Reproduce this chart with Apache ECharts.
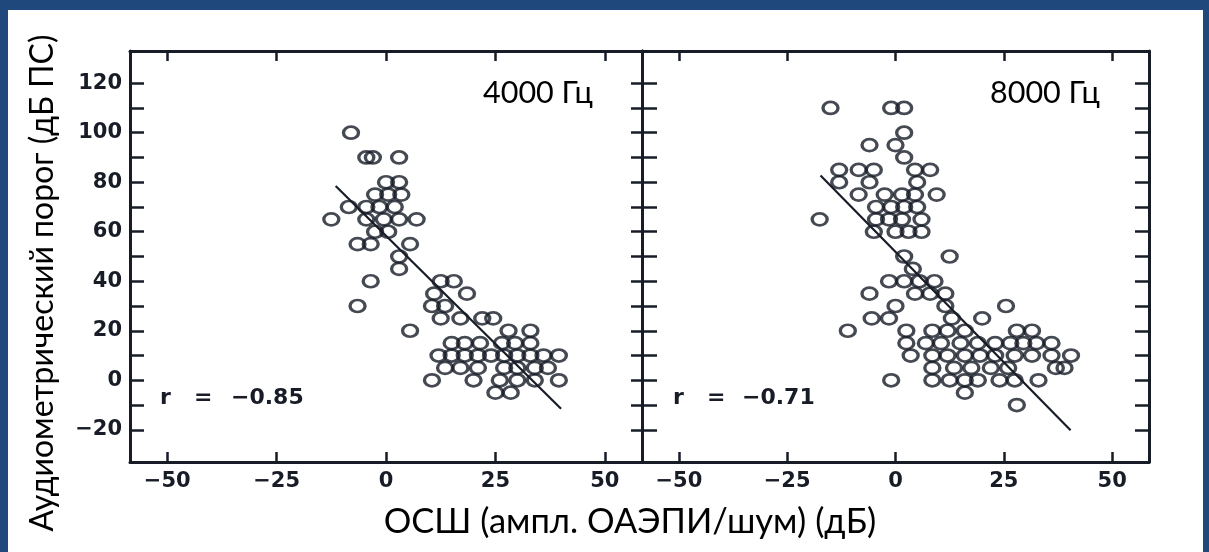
<!DOCTYPE html>
<html>
<head>
<meta charset="utf-8">
<script src="https://cdn.jsdelivr.net/npm/echarts@6/dist/echarts.min.js"></script>
<style>
  html, body { margin: 0; padding: 0; background: #1f497d; }
  #sheet { position: absolute; left: 8px; top: 10px; width: 1195px; height: 542px; background: #ffffff; }
  #chart { position: absolute; left: 0; top: 0; width: 1209px; height: 552px; }
</style>
</head>
<body>
<div id="sheet"></div>
<div id="chart"></div>
<script>
// OAE signal-to-noise ratio (dB) vs. audiometric threshold (dB HL), one pair per ear
const pts4000 = [
  [-8, 100],
  [-4.5, 90], [-3, 90], [3, 90],
  [0, 80], [3, 80],
  [-2.5, 75], [0.5, 75], [3.5, 75],
  [-8.5, 70], [-4.5, 70], [-1.5, 70], [2, 70],
  [-12.5, 65], [-4.5, 65], [-0.5, 65], [3, 65], [7, 65],
  [-2.5, 60], [0.5, 60],
  [-6.5, 55], [-3.5, 55], [5.5, 55],
  [3, 50], [3, 45],
  [-3.5, 40], [12.5, 40], [15.5, 40],
  [11, 35], [18.5, 35],
  [-6.5, 30], [10.5, 30], [13.5, 30],
  [12.5, 25], [17, 25], [22, 25], [24.5, 25],
  [5.5, 20], [28, 20], [33, 20],
  [15, 15], [18, 15], [21.5, 15], [26.5, 15], [29.5, 15], [33, 15],
  [12, 10], [15, 10], [18, 10], [21, 10], [24, 10], [27, 10], [30, 10], [33, 10], [36, 10], [39.5, 10],
  [13.5, 5], [17, 5], [21, 5], [27, 5], [30, 5], [34, 5], [37, 5],
  [10.5, 0], [20, 0], [26, 0], [30, 0], [34, 0], [39.5, 0],
  [25, -5], [28.5, -5]
];
const pts8000 = [
  [-15, 110], [-1, 110], [2, 110],
  [2, 100],
  [-6, 95], [0, 95],
  [2, 90],
  [-13, 85], [-8.5, 85], [-5, 85], [4.5, 85], [8, 85],
  [-13, 80], [-6, 80], [5, 80],
  [-8.5, 75], [-2.5, 75], [1.5, 75], [4.5, 75], [9.5, 75],
  [-4.5, 70], [-1, 70], [2, 70], [5, 70],
  [-17.5, 65], [-4.5, 65], [-1.5, 65], [1.5, 65], [6, 65],
  [-5, 60], [0, 60], [3, 60], [6, 60],
  [2, 50], [12.5, 50],
  [4, 45],
  [-1.5, 40], [2, 40], [5.5, 40], [9, 40],
  [-6, 35], [4.5, 35], [8, 35], [11.5, 35],
  [0, 30], [11.5, 30], [25.5, 30],
  [-5.5, 25], [-1.5, 25], [13, 25], [20, 25],
  [-11, 20], [2.5, 20], [8.5, 20], [12, 20], [16, 20], [28, 20], [31.5, 20],
  [2.5, 15], [7, 15], [10.5, 15], [15, 15], [19, 15], [23, 15], [26.5, 15], [29.5, 15], [32.5, 15], [36, 15],
  [3.5, 10], [8.5, 10], [12, 10], [16, 10], [19.5, 10], [23, 10], [27.5, 10], [31.5, 10], [36, 10], [40.5, 10],
  [8.5, 5], [13.5, 5], [17.5, 5], [22, 5], [26, 5], [37, 5], [39, 5],
  [-1, 0], [8.5, 0], [12.5, 0], [16, 0], [19, 0], [24, 0], [27.5, 0], [33, 0],
  [16, -5],
  [28, -10]
];
// regression lines (end points)
const fit4000 = [[-11.5, 78.5], [40, -11.5]];
const fit8000 = [[-17.3, 82.7], [40.4, -20.2]];

const panelNames = ['4000 Гц', '8000 Гц'];
const rValues = ['−0.85', '−0.71'];

const xTicks = [-50, -25, 0, 25, 50];
const yLabels = [-20, 0, 20, 40, 60, 80, 100, 120];
const yTicks = [-20, -10, 0, 10, 20, 30, 40, 50, 60, 70, 80, 90, 100, 110, 120];

const X_MIN = -58.5, X_MAX = 58.5;
const Y_MIN = -33, Y_MAX = 133;

const INK = '#171c27';
const numFont = { fontFamily: 'DejaVu Sans', fontWeight: 'bold', fontSize: 21, color: INK };
const fmt = v => (v < 0 ? '−' + Math.abs(v) : String(v));

function xAxisPair(gridIndex) {
  const base = {
    gridIndex, type: 'value', min: X_MIN, max: X_MAX,
    axisLine: { show: true, onZero: false, lineStyle: { color: INK, width: 3 } },
    splitLine: { show: false }
  };
  return [
    Object.assign({}, base, {
      position: 'bottom',
      axisTick: { show: true, inside: true, length: 10, customValues: xTicks, lineStyle: { color: INK, width: 2.5 } },
      axisLabel: Object.assign({ show: true, customValues: xTicks, margin: 9, formatter: fmt }, numFont)
    }),
    Object.assign({}, base, {
      position: 'top',
      axisTick: { show: true, inside: true, length: 10, customValues: xTicks, lineStyle: { color: INK, width: 2.5 } },
      axisLabel: { show: false }
    })
  ];
}

function yAxisPair(gridIndex, leftLabels, leftLen, rightLen) {
  const base = {
    gridIndex, type: 'value', min: Y_MIN, max: Y_MAX,
    axisLine: { show: true, onZero: false, lineStyle: { color: INK, width: 3 } },
    splitLine: { show: false }
  };
  return [
    Object.assign({}, base, {
      position: 'left',
      axisTick: { show: true, inside: true, length: leftLen, customValues: yTicks, lineStyle: { color: INK, width: 2.5 } },
      axisLabel: leftLabels
        ? Object.assign({ show: true, customValues: yLabels, margin: 8, formatter: fmt }, numFont)
        : { show: false }
    }),
    Object.assign({}, base, {
      position: 'right',
      axisTick: { show: true, inside: true, length: rightLen, customValues: yTicks, lineStyle: { color: INK, width: 2.5 } },
      axisLabel: { show: false }
    })
  ];
}

const circleStyle = { color: 'rgba(255,255,255,0)', borderColor: INK, borderWidth: 3 };

const chart = echarts.init(document.getElementById('chart'), null, { renderer: 'canvas' });

const panelFont = { fontFamily: 'Lato', fontSize: 30.5, fill: '#000000' };
const xTitleFont = { fontFamily: 'Lato', fontSize: 34.5, fill: '#000000' };
const yTitleFont = { fontFamily: 'Lato', fontSize: 32, fill: '#000000' };
const rFont = { fontFamily: 'DejaVu Sans', fontWeight: 'bold', fontSize: 22, fill: INK };

chart.setOption({
  animation: false,
  backgroundColor: 'transparent',
  grid: [
    { left: 130, top: 51, width: 512, height: 411 },
    { left: 642, top: 51, width: 507, height: 411 }
  ],
  xAxis: xAxisPair(0).concat(xAxisPair(1)),
  yAxis: yAxisPair(0, true, 14, 11).concat(yAxisPair(1, false, 15, 14)),
  series: [
    { type: 'line', xAxisIndex: 0, yAxisIndex: 0, data: fit4000, symbol: 'none', silent: true,
      lineStyle: { color: INK, width: 2.2 } },
    { type: 'scatter', xAxisIndex: 0, yAxisIndex: 0, data: pts4000, symbol: 'circle',
      symbolSize: [15, 12], itemStyle: circleStyle },
    { type: 'line', xAxisIndex: 2, yAxisIndex: 2, data: fit8000, symbol: 'none', silent: true,
      lineStyle: { color: INK, width: 2.2 } },
    { type: 'scatter', xAxisIndex: 2, yAxisIndex: 2, data: pts8000, symbol: 'circle',
      symbolSize: [15, 12], itemStyle: circleStyle }
  ],
  graphic: [
    { type: 'text', left: 483, top: 78, style: Object.assign({ text: panelNames[0] }, panelFont) },
    { type: 'text', left: 990, top: 78, style: Object.assign({ text: panelNames[1] }, panelFont) },
    { type: 'text', left: 160, top: 387, style: Object.assign({ text: 'r' }, rFont) },
    { type: 'text', left: 194, top: 387, style: Object.assign({ text: '=' }, rFont) },
    { type: 'text', left: 231, top: 387, style: Object.assign({ text: rValues[0] }, rFont) },
    { type: 'text', left: 673, top: 387, style: Object.assign({ text: 'r' }, rFont) },
    { type: 'text', left: 707, top: 387, style: Object.assign({ text: '=' }, rFont) },
    { type: 'text', left: 742, top: 387, style: Object.assign({ text: rValues[1] }, rFont) },
    { type: 'text', x: 630, y: 522, style: Object.assign({ text: 'ОСШ (ампл. ОАЭПИ/шум) (дБ)', align: 'center', verticalAlign: 'middle' }, xTitleFont) },
    { type: 'text', x: 43, y: 283, rotation: Math.PI / 2,
      style: Object.assign({ text: 'Аудиометрический порог (дБ ПС)', align: 'center', verticalAlign: 'middle' }, yTitleFont) }
  ]
});
</script>
</body>
</html>
